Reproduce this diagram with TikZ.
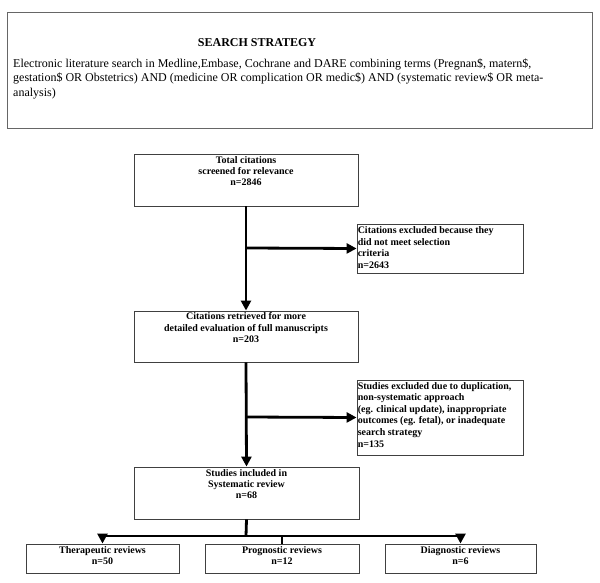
\documentclass[tikz,border=0pt]{standalone}
\usepackage{fontspec}
\setmainfont{Liberation Serif}
\usetikzlibrary{arrows.meta}
\tikzset{
  box/.style={draw=black!75, line width=0.9pt, inner sep=0pt, rectangle},
  ctext/.style={anchor=north, align=center, inner sep=0pt, font=\fontsize{10}{11.3}\selectfont\bfseries},
  ltext/.style={anchor=north west, align=left, inner sep=0pt, font=\fontsize{10}{11.6}\selectfont\bfseries},
  conn/.style={line width=2.8pt, draw=black},
  arr/.style={conn, -{Triangle[length=10pt,width=10pt]}},
}
\begin{document}
\begin{tikzpicture}[x=1pt,y=-1pt]
\useasboundingbox (0,0) rectangle (600,583);
% top search strategy box
\node[box, draw=black!60, minimum width=585pt, minimum height=116pt] (top) at (299.5,70) {};
\node[anchor=center, inner sep=0pt, font=\fontsize{12}{14}\selectfont\bfseries] (toptitle) at (257,43) {SEARCH STRATEGY};
\node[anchor=north west, align=left, inner sep=0pt, font=\fontsize{12}{14.6}\selectfont] (toptext) at (13,58.5)
 {Electronic literature search in Medline,Embase, Cochrane and DARE combining terms (Pregnan\$, matern\$,\\
 gestation\$ OR Obstetrics) AND (medicine OR complication OR medic\$) AND (systematic review\$ OR meta-\\
 analysis)};
% main boxes
\node[box, minimum width=224pt, minimum height=52pt] (b1) at (246,180) {};
\node[ctext] (b1t) at ([yshift=-2.5pt]b1.north) {Total citations\\screened for relevance\\n=2846};
\node[box, minimum width=166pt, minimum height=49pt] (e1) at (440,248.5) {};
\node[ltext] (e1t) at ([xshift=1pt,yshift=-3pt]e1.north west) {Citations excluded because they\\did not meet selection\\criteria\\n=2643};
\node[box, minimum width=224pt, minimum height=51pt] (b2) at (246,336.5) {};
\node[ctext] (b2t) at ([yshift=-2pt]b2.north) {Citations retrieved for more\\detailed evaluation of full manuscripts\\n=203};
\node[box, minimum width=166pt, minimum height=75pt] (e2) at (440,417.5) {};
\node[ltext] (e2t) at ([xshift=1pt,yshift=-2.5pt]e2.north west) {Studies excluded due to duplication,\\non-systematic approach\\(eg. clinical update), inappropriate\\outcomes (eg. fetal), or inadequate\\search strategy\\n=135};
\node[box, minimum width=225pt, minimum height=52pt] (b3) at (246.5,493) {};
\node[ctext] (b3t) at ([yshift=-2.5pt]b3.north) {Studies included in\\Systematic review\\n=68};
% bottom boxes
\node[box, minimum width=153pt, minimum height=29pt] (t) at (102.5,558.5) {};
\node[ctext] (tt) at ([yshift=-2.5pt]t.north) {Therapeutic reviews\\n=50};
\node[box, minimum width=154pt, minimum height=29pt] (p) at (282,558.5) {};
\node[ctext] (pt) at ([yshift=-2.5pt]p.north) {Prognostic reviews\\n=12};
\node[box, minimum width=151pt, minimum height=29pt] (d) at (460.5,558.5) {};
\node[ctext] (dt) at ([yshift=-2.5pt]d.north) {Diagnostic reviews\\n=6};
% connectors
\coordinate (j1) at (246,248);
\coordinate (j2) at (246,417);
\coordinate (j3) at (246,536);
\draw[arr] (b1.south) -- (b2.north);
\draw[arr] (j1) -- (e1.west);
\draw[arr] (b2.south) -- (b3.north);
\draw[arr] (j2) -- (e2.west);
\draw[conn] (b3.south) -- (j3);
\draw[arr] (j3) -| (t.north);
\draw[arr] (j3) -| (d.north);
\draw[line width=2pt] (p.north) -- (p.north |- j3);
\end{tikzpicture}
\end{document}
